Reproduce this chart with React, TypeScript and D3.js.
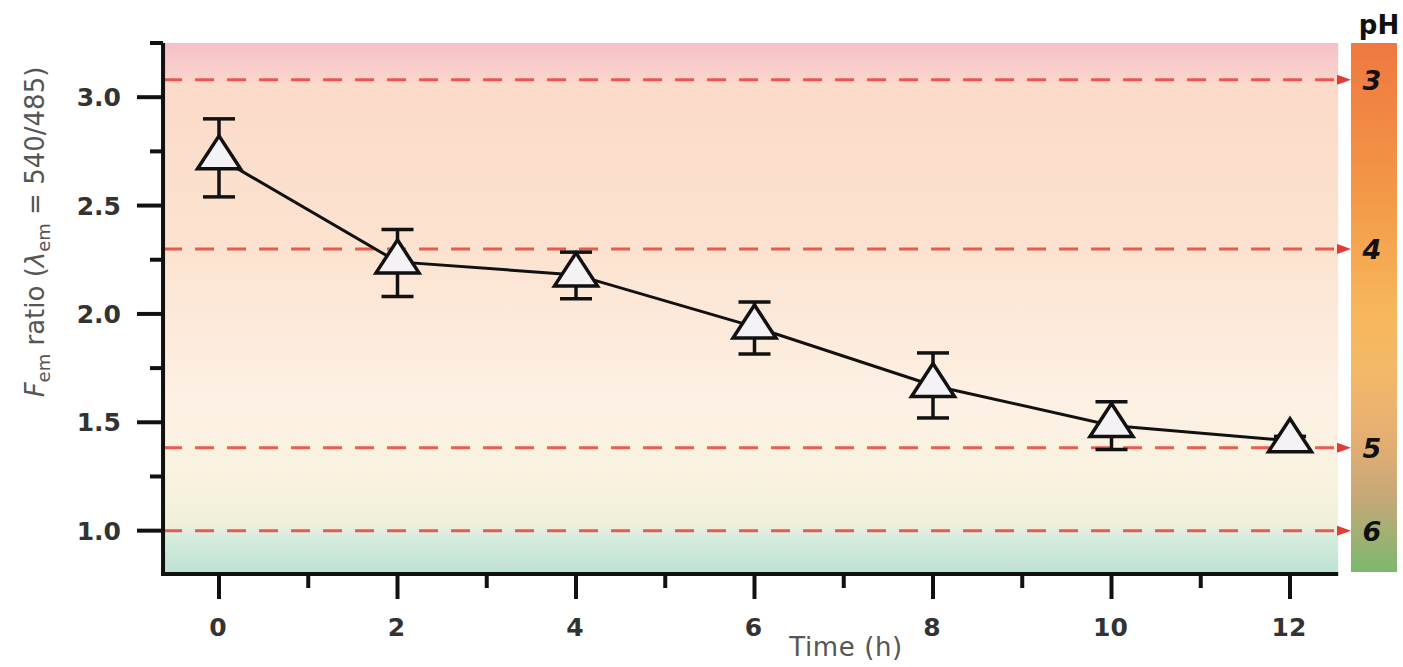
import React from 'react';
import * as d3 from 'd3';

const timeHours = [0, 2, 4, 6, 8, 10, 12];
const ratioMean = [2.72, 2.24, 2.18, 1.94, 1.67, 1.485, 1.415];
const errUpper = [0.18, 0.15, 0.105, 0.115, 0.15, 0.11, 0.02];
const errLower = [0.18, 0.16, 0.11, 0.125, 0.15, 0.11, 0.02];
const phLevels = ['3', '4', '5', '6'];
const phRatio = [3.08, 2.3, 1.383, 1.0];
const yMajorTicks = [1.0, 1.5, 2.0, 2.5, 3.0];
const yMinorTicks = [1.25, 1.75, 2.25, 2.75, 3.25];
const xMajorTicks = [0, 2, 4, 6, 8, 10, 12];
const xMinorTicks = [1, 3, 5, 7, 9, 11];

const W = 1403;
const H = 667;
const FONT = '"DejaVu Sans", Verdana, sans-serif';

export default function App() {
  const x = d3.scaleLinear().domain([0, 12]).range([219, 1290]);
  const y = d3.scaleLinear().domain([0.8, 3.25]).range([574, 43]);
  const xLeft = x(-0.627);
  const xRight = x(12.54);
  const yTop = y(3.25);
  const yBot = y(0.8);

  const pts = timeHours.map((t, i) => ({ t, v: ratioMean[i], up: errUpper[i], lo: errLower[i] }));
  const line = d3
    .line<{ t: number; v: number }>()
    .x((d) => x(d.t))
    .y((d) => y(d.v));

  const triW = 43;
  const triH = 33;
  const triPath = `M0,${(-2 * triH) / 3}L${triW / 2},${triH / 3}L${-triW / 2},${triH / 3}Z`;

  const cbX0 = 1351;
  const cbX1 = 1397;

  return (
    <svg
      width={W}
      height={H}
      style={{ position: 'absolute', left: 0, top: 0, display: 'block', background: '#fff' }}
      fontFamily={FONT}
    >
      <defs>
        <linearGradient id="bg" x1="0" y1={yTop} x2="0" y2={yBot} gradientUnits="userSpaceOnUse">
          <stop offset={0} stopColor="#f6c0c8" />
          <stop offset={(72 - 43) / 531} stopColor="#f9cfcb" />
          <stop offset={(84 - 43) / 531} stopColor="#fbdac9" />
          <stop offset={(250 - 43) / 531} stopColor="#fce3d0" />
          <stop offset={(400 - 43) / 531} stopColor="#fdf0e4" />
          <stop offset={(470 - 43) / 531} stopColor="#f9f3e0" />
          <stop offset={(526 - 43) / 531} stopColor="#f0f0da" />
          <stop offset={(536 - 43) / 531} stopColor="#d6ecdf" />
          <stop offset={1} stopColor="#bde2d3" />
        </linearGradient>
        <linearGradient id="cb" x1="0" y1={43} x2="0" y2={572} gradientUnits="userSpaceOnUse">
          <stop offset={0} stopColor="#ef7840" />
          <stop offset={0.3} stopColor="#f39a48" />
          <stop offset={0.5} stopColor="#f7b65a" />
          <stop offset={0.62} stopColor="#f3b968" />
          <stop offset={0.75} stopColor="#e4ae72" />
          <stop offset={0.86} stopColor="#c6a878" />
          <stop offset={1} stopColor="#7bb86e" />
        </linearGradient>
      </defs>

      {/* plot background */}
      <rect x={xLeft} y={yTop} width={xRight - xLeft} height={yBot - yTop} fill="url(#bg)" />

      {/* pH colour bar */}
      <rect x={cbX0} y={43} width={cbX1 - cbX0} height={572 - 43} fill="url(#cb)" />
      <text x={1379} y={34} textAnchor="middle" fontWeight="bold" fontSize={26} fill="#111">
        pH
      </text>

      {/* dashed pH reference lines */}
      {phRatio.map((r, i) => (
        <g key={'ph' + i}>
          <line
            x1={xLeft}
            x2={1338}
            y1={y(r)}
            y2={y(r)}
            stroke="#e8403a"
            strokeOpacity={0.85}
            strokeWidth={3}
            strokeDasharray="19 13"
          />
          <path
            d={`M1337,${y(r) - 5}L1351,${y(r)}L1337,${y(r) + 5}Z`}
            fill="#e53935"
          />
          <text
            x={1372}
            y={y(r) + 10}
            textAnchor="middle"
            fontWeight="bold"
            fontStyle="italic"
            fontSize={27}
            fill="#111"
          >
            {phLevels[i]}
          </text>
        </g>
      ))}

      {/* axes */}
      <line x1={xLeft} x2={xLeft} y1={yTop} y2={yBot + 2} stroke="#111" strokeWidth={4} />
      <line x1={xLeft - 2} x2={xRight} y1={yBot} y2={yBot} stroke="#111" strokeWidth={4} />
      {yMajorTicks.map((t) => (
        <g key={'ym' + t}>
          <line x1={137} x2={xLeft} y1={y(t)} y2={y(t)} stroke="#111" strokeWidth={4} />
          <text x={121} y={y(t) + 9} textAnchor="end" fontWeight="bold" fontSize={25} fill="#333">
            {t.toFixed(1)}
          </text>
        </g>
      ))}
      {yMinorTicks.map((t) => (
        <line key={'yn' + t} x1={150} x2={xLeft} y1={y(t)} y2={y(t)} stroke="#111" strokeWidth={4} />
      ))}
      {xMajorTicks.map((t) => (
        <g key={'xm' + t}>
          <line x1={x(t)} x2={x(t)} y1={yBot} y2={599} stroke="#111" strokeWidth={4} />
          <text x={x(t) - 1} y={636} textAnchor="middle" fontWeight="bold" fontSize={25} fill="#333">
            {t}
          </text>
        </g>
      ))}
      {xMinorTicks.map((t) => (
        <line key={'xn' + t} x1={x(t)} x2={x(t)} y1={yBot} y2={588} stroke="#111" strokeWidth={4} />
      ))}

      {/* axis titles */}
      <text x={846} y={656} textAnchor="middle" fontSize={26} letterSpacing={0.6} fill="#555">
        Time (h)
      </text>
      <text
        transform={`translate(44,232) rotate(-90)`}
        textAnchor="middle"
        fontSize={26}
        fill="#555"
      >
        <tspan fontStyle="italic">F</tspan>
        <tspan fontSize={18} dy={6}>em</tspan>
        <tspan dy={-6}> ratio (</tspan>
        <tspan fontStyle="italic">λ</tspan>
        <tspan fontSize={18} dy={6}>em</tspan>
        <tspan dy={-6}> = 540/485)</tspan>
      </text>

      {/* data line */}
      <path d={line(pts) || ''} fill="none" stroke="#111" strokeWidth={3} />

      {/* error bars */}
      {pts.map((d, i) => (
        <g key={'e' + i} stroke="#111" strokeWidth={3.5}>
          <line x1={x(d.t)} x2={x(d.t)} y1={y(d.v + d.up)} y2={y(d.v - d.lo)} />
          <line x1={x(d.t) - 16} x2={x(d.t) + 16} y1={y(d.v + d.up)} y2={y(d.v + d.up)} />
          <line x1={x(d.t) - 16} x2={x(d.t) + 16} y1={y(d.v - d.lo)} y2={y(d.v - d.lo)} />
        </g>
      ))}

      {/* triangle markers */}
      {pts.map((d, i) => (
        <path
          key={'m' + i}
          d={triPath}
          transform={`translate(${x(d.t)},${y(d.v)})`}
          fill="#f5f2f5"
          stroke="#111"
          strokeWidth={3.5}
          strokeLinejoin="miter"
        />
      ))}
    </svg>
  );
}
